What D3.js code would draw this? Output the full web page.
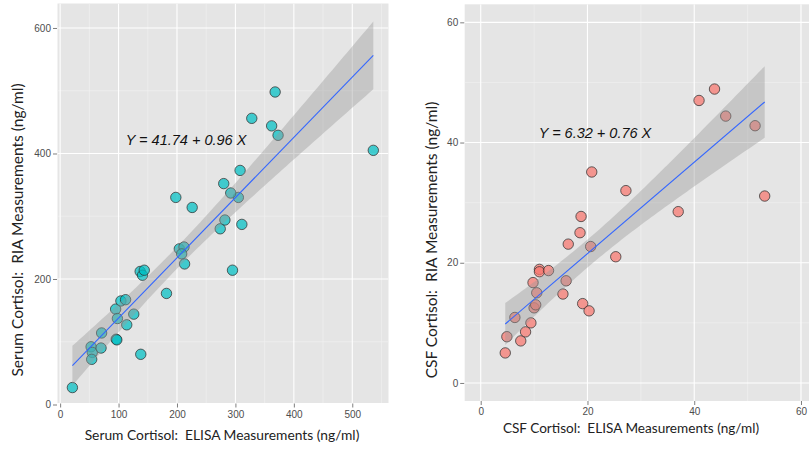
<!DOCTYPE html>
<html>
<head>
<meta charset="utf-8">
<script src="https://cdn.jsdelivr.net/npm/d3@7"></script>
<style>
  body { margin: 0; background: #fff; }
  svg { display: block; }
  .tick text { font-family: "Liberation Sans", Arial, sans-serif; font-size: 10px; fill: #4d4d4d; }
  .tick line { stroke: #7f7f7f; }
  .title { font-family: Lato, "Open Sans", sans-serif; fill: #222; }
  .eq { font-family: "Liberation Sans", Arial, sans-serif; font-style: italic; font-size: 14.5px; fill: #111; }
</style>
</head>
<body>
<div id="chart"></div>
<script>
// Serum cortisol: ELISA (x) vs RIA (y), ng/ml
const serumElisa = [21, 53, 55, 54, 70, 71, 95, 98, 96, 97, 104, 112, 114, 126, 138, 137, 141, 144,
  182, 204, 212, 208, 213, 226, 198, 274, 282, 311, 295, 305, 308, 280, 292, 328, 362, 373, 368, 536];
const serumRia = [27, 92, 83, 72, 90, 114, 152, 137, 104, 103, 165, 167, 127, 144, 80, 212, 206, 214,
  177, 248, 251, 240, 224, 314, 330, 280, 294, 287, 214, 330, 373, 352, 337, 456, 444, 429, 498, 405];

// CSF cortisol: ELISA (x) vs RIA (y), ng/ml
const csfElisa = [4.6, 4.9, 6.4, 7.5, 8.4, 9.4, 10.0, 10.3, 10.5, 9.8, 11.0, 11.0, 12.7, 15.4, 16.0,
  16.4, 18.6, 18.8, 19.1, 20.3, 20.6, 25.3, 37.0, 20.8, 27.2, 40.9, 43.8, 45.9, 51.4, 53.2];
const csfRia = [5.0, 7.7, 10.9, 7.0, 8.5, 10.0, 12.5, 13.0, 15.0, 16.7, 18.9, 18.5, 18.7, 14.8, 17.0,
  23.1, 25.0, 27.7, 13.2, 12.0, 22.7, 21.0, 28.5, 35.1, 32.0, 47.0, 48.9, 44.4, 42.8, 31.1];

// fitted lines as printed on the chart: [intercept, slope]
const serumFit = [41.74, 0.96];
const csfFit = [6.32, 0.76];

const serumXTicks = [0, 100, 200, 300, 400, 500];
const serumYTicks = [0, 200, 400, 600];
const csfTicks = [0, 20, 40, 60];

const width = 809, height = 451;

const svg = d3.select('#chart')
  .append('svg')
  .attr('width', width)
  .attr('height', height);

function drawPanel(cfg) {
  const x = d3.scaleLinear().domain(cfg.xDomain).range([cfg.left, cfg.right]);
  const y = d3.scaleLinear().domain(cfg.yDomain).range([cfg.bottom, cfg.top]);
  const g = svg.append('g');

  const clipId = 'clip-' + cfg.name;
  svg.append('clipPath').attr('id', clipId)
    .append('rect')
    .attr('x', cfg.left).attr('y', cfg.top)
    .attr('width', cfg.right - cfg.left).attr('height', cfg.bottom - cfg.top);

  g.append('rect')
    .attr('x', cfg.left).attr('y', cfg.top)
    .attr('width', cfg.right - cfg.left).attr('height', cfg.bottom - cfg.top)
    .attr('fill', '#e5e5e5');

  const inner = g.append('g').attr('clip-path', 'url(#' + clipId + ')');

  // minor grid (midpoints between major ticks)
  const xStep = cfg.xTicks[1] - cfg.xTicks[0];
  const yStep = cfg.yTicks[1] - cfg.yTicks[0];
  const xMinor = d3.range(cfg.xTicks[0] - xStep / 2, cfg.xDomain[1], xStep);
  const yMinor = d3.range(cfg.yTicks[0] - yStep / 2, cfg.yDomain[1], yStep);

  inner.selectAll('.xminor').data(xMinor).enter().append('line')
    .attr('x1', d => x(d)).attr('x2', d => x(d))
    .attr('y1', cfg.top).attr('y2', cfg.bottom)
    .attr('stroke', '#f2f2f2').attr('stroke-width', 0.6);
  inner.selectAll('.yminor').data(yMinor).enter().append('line')
    .attr('y1', d => y(d)).attr('y2', d => y(d))
    .attr('x1', cfg.left).attr('x2', cfg.right)
    .attr('stroke', '#f2f2f2').attr('stroke-width', 0.6);

  inner.selectAll('.xmajor').data(cfg.xTicks).enter().append('line')
    .attr('x1', d => x(d)).attr('x2', d => x(d))
    .attr('y1', cfg.top).attr('y2', cfg.bottom)
    .attr('stroke', '#ffffff').attr('stroke-width', 1.1);
  inner.selectAll('.ymajor').data(cfg.yTicks).enter().append('line')
    .attr('y1', d => y(d)).attr('y2', d => y(d))
    .attr('x1', cfg.left).attr('x2', cfg.right)
    .attr('stroke', '#ffffff').attr('stroke-width', 1.1);

  // points
  const pts = cfg.xs.map((d, i) => [d, cfg.ys[i]]);
  inner.selectAll('circle').data(pts).enter().append('circle')
    .attr('cx', d => x(d[0]))
    .attr('cy', d => y(d[1]))
    .attr('r', 5.2)
    .attr('fill', cfg.color)
    .attr('fill-opacity', 0.72)
    .attr('stroke', '#333')
    .attr('stroke-opacity', 0.85)
    .attr('stroke-width', 0.9);

  // 95% confidence band around the fitted line
  const n = cfg.xs.length;
  const xbar = d3.mean(cfg.xs);
  const sxx = d3.sum(cfg.xs, v => (v - xbar) * (v - xbar));
  const fit = v => cfg.fit[0] + cfg.fit[1] * v;
  const sse = d3.sum(pts, d => (d[1] - fit(d[0])) ** 2);
  const s = Math.sqrt(sse / (n - 2));
  const xs0 = d3.extent(cfg.xs);
  const grid = d3.range(0, 81).map(i => xs0[0] + (xs0[1] - xs0[0]) * i / 80);
  const band = grid.map(v => {
    const se = s * Math.sqrt(1 / n + (v - xbar) ** 2 / sxx);
    return { x: v, lo: fit(v) - cfg.t * se, hi: fit(v) + cfg.t * se };
  });

  inner.append('path')
    .datum(band)
    .attr('d', d3.area().x(d => x(d.x)).y0(d => y(d.lo)).y1(d => y(d.hi)))
    .attr('fill', '#999999')
    .attr('fill-opacity', 0.4);

  inner.append('line')
    .attr('x1', x(xs0[0])).attr('y1', y(fit(xs0[0])))
    .attr('x2', x(xs0[1])).attr('y2', y(fit(xs0[1])))
    .attr('stroke', '#3366ff')
    .attr('stroke-width', 1.1);

  // axes
  const xAxis = g.append('g')
    .attr('transform', 'translate(0,' + (cfg.bottom + cfg.xAxisShift) + ')')
    .call(d3.axisBottom(x).tickValues(cfg.xTicks).tickSize(4).tickPadding(3));
  xAxis.select('.domain').remove();

  const yAxis = g.append('g')
    .attr('transform', 'translate(' + (cfg.left - 0.5) + ',0)')
    .call(d3.axisLeft(y).tickValues(cfg.yTicks).tickSize(4).tickPadding(2));
  yAxis.select('.domain').remove();

  // equation
  g.append('text')
    .attr('class', 'eq')
    .attr('x', cfg.eqX).attr('y', cfg.eqY)
    .attr('text-anchor', 'middle')
    .text('Y = ' + cfg.fit[0] + ' + ' + cfg.fit[1] + ' X');

  // titles
  g.append('text')
    .attr('class', 'title')
    .attr('x', cfg.xTitleX).attr('y', cfg.xTitleY)
    .attr('text-anchor', 'middle')
    .attr('font-size', cfg.titleSize)
    .attr('xml:space', 'preserve')
    .text(cfg.xTitle);

  g.append('text')
    .attr('class', 'title')
    .attr('transform', 'translate(' + cfg.yTitleX + ',' + cfg.yTitleY + ') rotate(-90)')
    .attr('text-anchor', 'middle')
    .attr('font-size', cfg.yTitleSize)
    .attr('xml:space', 'preserve')
    .text(cfg.yTitle);
}

drawPanel({
  name: 'serum',
  xs: serumElisa, ys: serumRia, fit: serumFit, t: 2.028,
  color: '#00bfc4',
  xDomain: [-4.5, 562], yDomain: [2.4, 639],
  left: 57.5, right: 388.5, top: 3.5, bottom: 403,
  xTicks: serumXTicks, yTicks: serumYTicks,
  xAxisShift: 0.5,
  eqX: 186, eqY: 145,
  titleSize: 13.8, yTitleSize: 15.5,
  xTitle: 'Serum Cortisol:  ELISA Measurements (ng/ml)', xTitleX: 222, xTitleY: 440,
  yTitle: 'Serum Cortisol:  RIA Measurements (ng/ml)', yTitleX: 23, yTitleY: 230
});

drawPanel({
  name: 'csf',
  xs: csfElisa, ys: csfRia, fit: csfFit, t: 2.048,
  color: '#f8766d',
  xDomain: [-3, 63], yDomain: [-3, 63],
  left: 464.7, right: 817, top: 4.3, bottom: 401,
  xTicks: csfTicks, yTicks: csfTicks,
  xAxisShift: 0,
  eqX: 595, eqY: 138,
  titleSize: 13.6, yTitleSize: 15.5,
  xTitle: 'CSF Cortisol:  ELISA Measurements (ng/ml)', xTitleX: 631, xTitleY: 433,
  yTitle: 'CSF Cortisol:  RIA Measurements (ng/ml)', yTitleX: 437, yTitleY: 240
});
</script>
</body>
</html>
